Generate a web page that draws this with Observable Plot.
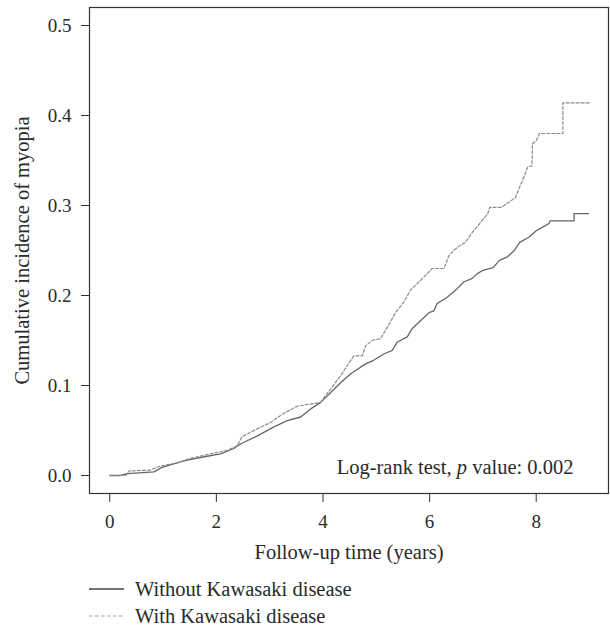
<!DOCTYPE html>
<html>
<head>
<meta charset="utf-8">
<script src="https://cdn.jsdelivr.net/npm/d3@7"></script>
<script src="https://cdn.jsdelivr.net/npm/@observablehq/plot@0.6"></script>
<style>
  html, body { margin: 0; padding: 0; background: #fff; }
  #wrap { width: 610px; font-family: "Liberation Serif", "DejaVu Serif", serif; color: #2a2a2a; }
  #legend { display: block; }
</style>
</head>
<body>
<div id="wrap">
  <div id="chart"></div>
  <svg id="legend" width="610" height="59"></svg>
</div>
<script>
// ---- Data (follow-up years, cumulative incidence) ----
const seriesNames = ["Without Kawasaki disease", "With Kawasaki disease"];

const yearsWithout = [0, 0.2, 0.33, 0.83, 0.98, 1.2, 1.45, 1.7, 2.08, 2.33, 2.45, 2.77, 3.08, 3.33, 3.58, 3.77, 3.95, 4.14, 4.33, 4.52, 4.8, 4.95, 5.14, 5.3, 5.39, 5.58, 5.67, 5.83, 5.99, 6.08, 6.14, 6.33, 6.49, 6.64, 6.8, 6.89, 7.0, 7.19, 7.31, 7.46, 7.59, 7.69, 7.87, 8.0, 8.12, 8.24, 8.26, 8.71, 8.71, 8.98];
const incidenceWithout = [0, 0, 0.002, 0.004, 0.009, 0.013, 0.017, 0.020, 0.024, 0.030, 0.035, 0.044, 0.054, 0.061, 0.065, 0.074, 0.081, 0.092, 0.103, 0.113, 0.124, 0.128, 0.135, 0.139, 0.148, 0.154, 0.163, 0.172, 0.181, 0.183, 0.191, 0.198, 0.206, 0.215, 0.219, 0.224, 0.228, 0.231, 0.239, 0.243, 0.250, 0.259, 0.265, 0.272, 0.276, 0.280, 0.283, 0.283, 0.291, 0.291];

const yearsWith = [0, 0.3, 0.36, 0.76, 0.92, 1.26, 1.51, 1.89, 2.2, 2.39, 2.48, 2.77, 3.02, 3.26, 3.52, 3.83, 3.95, 4.14, 4.32, 4.58, 4.74, 4.8, 4.92, 5.08, 5.23, 5.36, 5.52, 5.64, 5.8, 5.95, 6.05, 6.27, 6.36, 6.45, 6.58, 6.67, 6.8, 6.94, 7.09, 7.13, 7.35, 7.5, 7.61, 7.7, 7.8, 7.84, 7.92, 7.93, 8.0, 8.06, 8.5, 8.5, 9.0];
const incidenceWith = [0, 0, 0.005, 0.006, 0.010, 0.014, 0.019, 0.024, 0.028, 0.033, 0.043, 0.052, 0.059, 0.069, 0.077, 0.080, 0.081, 0.096, 0.110, 0.133, 0.133, 0.144, 0.150, 0.152, 0.167, 0.181, 0.193, 0.206, 0.215, 0.224, 0.230, 0.230, 0.244, 0.250, 0.256, 0.259, 0.270, 0.280, 0.291, 0.298, 0.298, 0.304, 0.309, 0.322, 0.336, 0.343, 0.344, 0.3685, 0.372, 0.380, 0.380, 0.414, 0.414];

const xTicks = [0, 2, 4, 6, 8];
const yTicks = [0, 0.1, 0.2, 0.3, 0.4, 0.5];
const xTitle = "Follow-up time (years)";
const yTitle = "Cumulative incidence of myopia";
const testLabel = ["Log-rank test, ", "p", " value: 0.002"];

// ---- Build tables ----
const without = yearsWithout.map((t, i) => ({t, v: incidenceWithout[i]}));
const withKD = yearsWith.map((t, i) => ({t, v: incidenceWith[i]}));

const FONT = '"Liberation Serif", "DejaVu Serif", serif';
const solidColor = "#666666";
const dashColor = "#8c8c8c";

const chart = Plot.plot({
  width: 610,
  height: 570,
  marginLeft: 89,
  marginRight: 2,
  marginTop: 7,
  marginBottom: 77,
  style: {fontFamily: FONT, fontSize: "19px", color: "#2a2a2a", background: "#fff"},
  x: {domain: [-0.38, 9.356]},
  y: {domain: [-0.02, 0.52]},
  marks: [
    Plot.axisX({ticks: xTicks, tickSize: 9, tickPadding: 12, tickFormat: d3.format("d"), label: null, stroke: "#333"}),
    Plot.axisY({ticks: yTicks, tickSize: 8, tickPadding: 10, tickFormat: d3.format(".1f"), label: null, stroke: "#333"}),
    Plot.line(without, {x: "t", y: "v", stroke: solidColor, strokeWidth: 1.3}),
    Plot.line(withKD, {x: "t", y: "v", stroke: dashColor, strokeWidth: 1.2, strokeDasharray: "3,2"}),
    Plot.frame({stroke: "#333", strokeWidth: 1.2}),
    Plot.text([testLabel.join("")], {frameAnchor: "bottom-right", textAnchor: "end", lineAnchor: "bottom", dx: -35, dy: -20, fontSize: 20.5, fill: "#2a2a2a", className: "logrank"}),
    Plot.text([xTitle], {frameAnchor: "bottom", lineAnchor: "bottom", dy: 65, fontSize: 20.5, fill: "#2a2a2a"}),
    Plot.text([yTitle], {frameAnchor: "left", rotate: -90, textAnchor: "middle", lineAnchor: "middle", dx: -67, fontSize: 20.5, fill: "#2a2a2a"})
  ]
});
document.getElementById("chart").appendChild(chart);

// italic "p" in the log-rank annotation
d3.select(chart).selectAll(".logrank text").each(function() {
  const t = d3.select(this);
  t.text(null);
  testLabel.forEach((s, i) => {
    t.append("tspan").attr("font-style", i === 1 ? "italic" : null).text(s);
  });
});

// ---- Legend (below the SVG) ----
const legend = d3.select("#legend");
const legendStyles = [
  {stroke: "#444", dash: null, width: 1.3},
  {stroke: "#999", dash: "3.5,2.5", width: 1.2}
];
seriesNames.forEach((name, i) => {
  const yMid = 19 + i * 27;
  legend.append("line")
    .attr("x1", 89).attr("x2", 124).attr("y1", yMid).attr("y2", yMid)
    .attr("stroke", legendStyles[i].stroke)
    .attr("stroke-width", legendStyles[i].width)
    .attr("stroke-dasharray", legendStyles[i].dash);
  legend.append("text")
    .attr("x", 135).attr("y", yMid + 7)
    .attr("font-family", FONT).attr("font-size", 20.5).attr("fill", "#2a2a2a")
    .text(name);
});
</script>
</body>
</html>
